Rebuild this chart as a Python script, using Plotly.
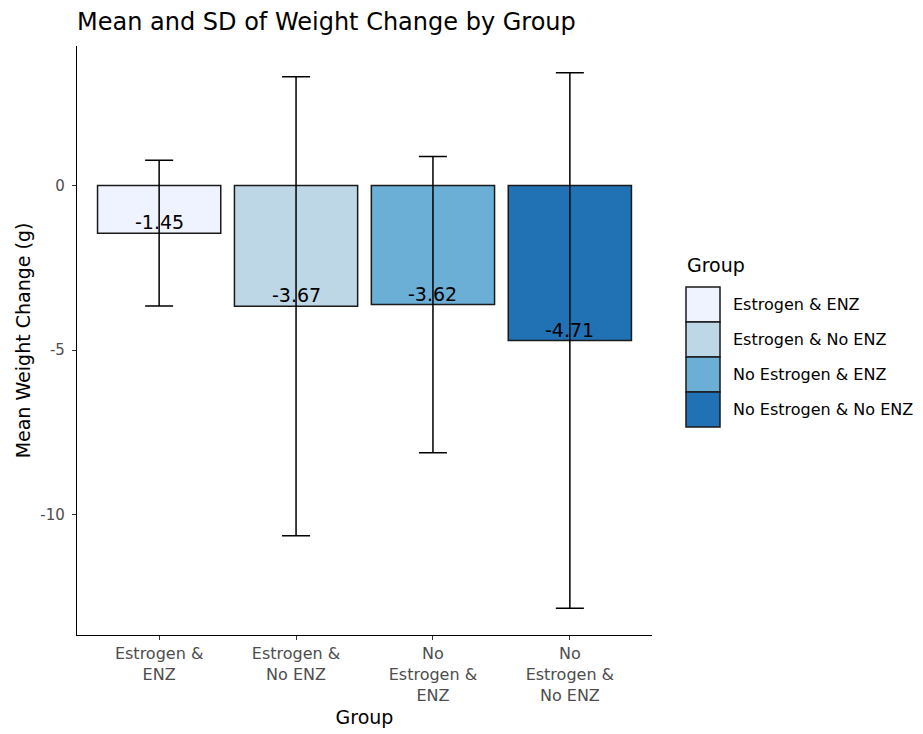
import plotly.graph_objects as go

groups = ["Estrogen & ENZ", "Estrogen & No ENZ", "No Estrogen & ENZ", "No Estrogen & No ENZ"]
tick_labels = ["Estrogen &<br>ENZ", "Estrogen &<br>No ENZ", "No<br>Estrogen &<br>ENZ", "No<br>Estrogen &<br>No ENZ"]
means = [-1.45, -3.67, -3.62, -4.71]
sds = [2.21, 6.97, 4.50, 8.13]
colors = ["#EFF3FF", "#BDD7E7", "#6BAED6", "#2171B5"]
y_ticks = [0, -5, -10]
y_tick_labels = ["0", "-5", "-10"]

FONT = "DejaVu Sans, Liberation Sans, Arial, sans-serif"
xs = [1, 2, 3, 4]

# page body has an 8px margin; plot panel in screen px: x 77..652, y 46..635
W, H = 915, 726
ML, MT, MB, MR = 69, 38, 99, 271
PW, PH = W - ML - MR, H - MT - MB

def px(sx):
    return (sx - 77) / PW

def py(sy):
    return (635 - sy) / PH

fig = go.Figure()
for x, g, m, s, c in zip(xs, groups, means, sds, colors):
    fig.add_trace(go.Bar(
        x=[x], y=[m], width=0.9, name=g,
        marker=dict(color=c, line=dict(color="#1a1a1a", width=1.5)),
        error_y=dict(type="data", array=[s], visible=True, color="black", thickness=1.5, width=14),
        showlegend=False,
    ))

for x, m in zip(xs, means):
    fig.add_annotation(x=x, y=m, text=f"{m:.2f}", showarrow=False, yanchor="middle",
                       yshift=11, font=dict(family=FONT, size=19, color="black"))

lo = min(m - s for m, s in zip(means, sds))
hi = max(m + s for m, s in zip(means, sds))
pad = (hi - lo) * 0.05

# custom legend (ggplot-style large keys)
fig.add_annotation(xref="paper", yref="paper", x=px(685), y=py(265),
                   text="Group", showarrow=False, xanchor="left", yanchor="middle",
                   font=dict(family=FONT, size=19, color="black"))
key_h = 35
for i, (g, c) in enumerate(zip(groups, colors)):
    top = 287 + i * key_h
    fig.add_shape(type="rect", xref="paper", yref="paper",
                  x0=px(686), x1=px(720), y0=py(top), y1=py(top + key_h),
                  fillcolor=c, line=dict(color="#1a1a1a", width=1.5))
    fig.add_annotation(xref="paper", yref="paper", x=px(731),
                       y=py(top + key_h / 2), text=g, showarrow=False,
                       xanchor="left", yanchor="middle",
                       font=dict(family=FONT, size=16, color="black"))

fig.update_layout(
    width=W, height=H,
    margin=dict(l=ML, r=MR, t=MT, b=MB),
    plot_bgcolor="white", paper_bgcolor="white",
    title=dict(text="Mean and SD of Weight Change by Group", x=ML / W, xanchor="left",
               y=1 - 14 / H, yanchor="middle",
               font=dict(family=FONT, size=24, color="black")),
    bargap=0.1,
    showlegend=False,
)
fig.update_xaxes(
    range=[0.4, 4.6], tickmode="array", tickvals=xs, ticktext=tick_labels,
    showline=True, linecolor="black", linewidth=1.3, ticks="outside", ticklen=4,
    tickcolor="#333333", showgrid=False, zeroline=False, automargin=False,
    tickfont=dict(family=FONT, size=16, color="#4D4D4D"),
    title=dict(text="Group", font=dict(family=FONT, size=19, color="black"), standoff=6),
)
fig.update_yaxes(
    range=[lo - pad, hi + pad], tickmode="array", tickvals=y_ticks, ticktext=y_tick_labels,
    showline=True, linecolor="black", linewidth=1.3, ticks="outside", ticklen=4,
    tickcolor="#333333", showgrid=False, zeroline=False, automargin=False,
    ticklabelstandoff=4,
    tickfont=dict(family=FONT, size=15, color="#4D4D4D"),
    title=dict(text="Mean Weight Change (g)", font=dict(family=FONT, size=19, color="black"), standoff=4),
)

fig.write_html("out.html")
